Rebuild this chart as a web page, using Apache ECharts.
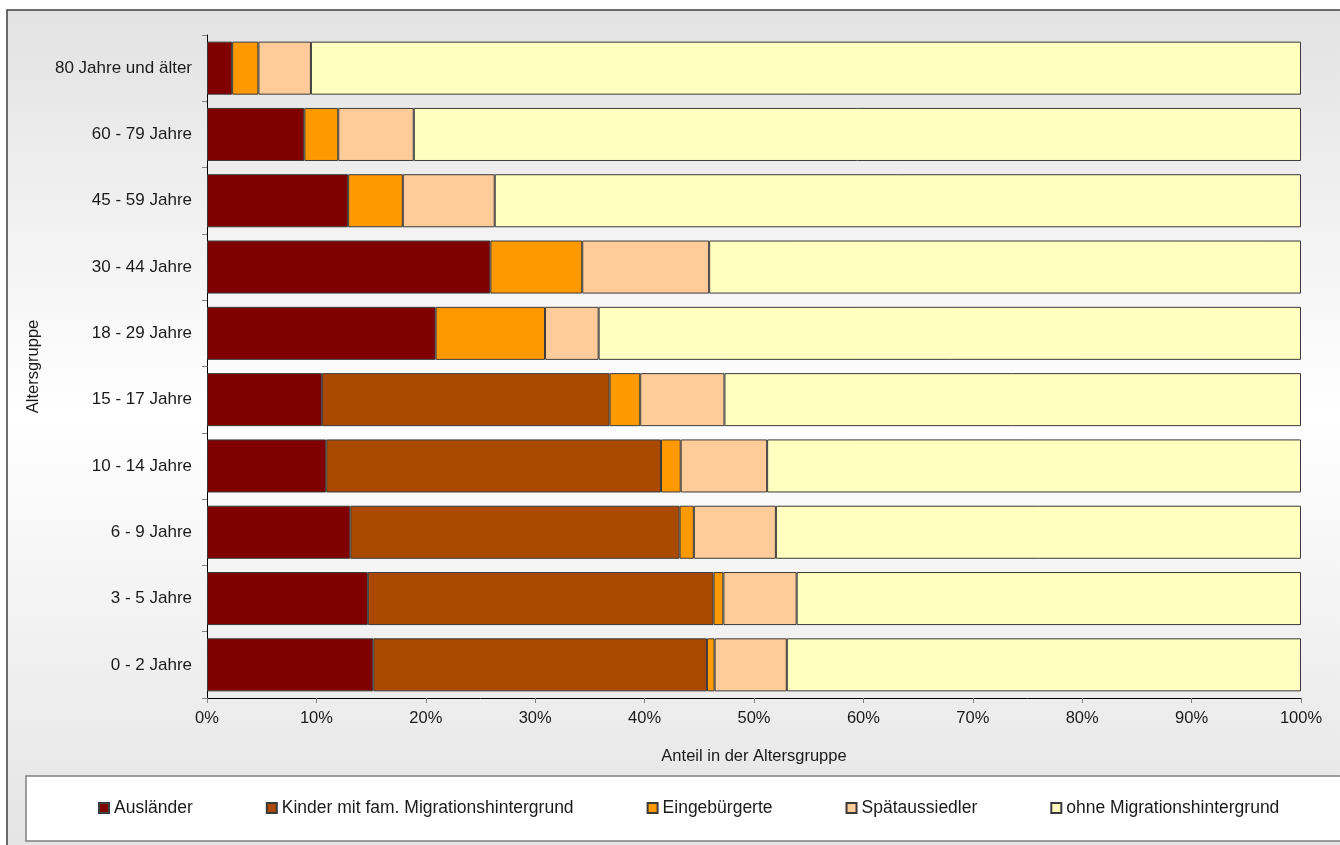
<!DOCTYPE html>
<html>
<head>
<meta charset="utf-8">
<script src="https://cdn.jsdelivr.net/npm/echarts@6/dist/echarts.min.js"></script>
<style>
html,body{margin:0;padding:0;background:#fff;}
#chart{width:1340px;height:845px;}
</style>
</head>
<body>
<div id="chart"></div>
<script>
// Categories (bottom to top, as ECharts category y-axis draws them)
const categories = ['0 - 2 Jahre','3 - 5 Jahre','6 - 9 Jahre','10 - 14 Jahre','15 - 17 Jahre','18 - 29 Jahre','30 - 44 Jahre','45 - 59 Jahre','60 - 79 Jahre','80 Jahre und älter'];
const seriesNames = ['Ausländer','Kinder mit fam. Migrationshintergrund','Eingebürgerte','Spätaussiedler','ohne Migrationshintergrund'];
const auslaender     = [15.2, 14.7, 13.1, 10.9, 10.5, 20.9, 25.9, 12.9, 8.9, 2.3];
const kinder         = [30.5, 31.6, 30.1, 30.6, 26.3, null, null, null, null, null];
const eingebuergerte = [0.7, 0.9, 1.3, 1.8, 2.8, 10.0, 8.4, 5.0, 3.1, 2.4];
const spaetaussiedler= [6.6, 6.7, 7.5, 7.9, 7.7, 4.9, 11.6, 8.4, 6.9, 4.8];
const ohneMigration  = [47.0, 46.1, 48.0, 48.8, 52.7, 64.2, 54.1, 73.7, 81.1, 90.5];

const colors = ['#800000','#AA4A00','#FF9900','#FFCC99','#FFFFC0'];
const font = "'Liberation Sans', Arial, sans-serif";
const textColor = '#1a1a1a';

const dataSets = [auslaender, kinder, eingebuergerte, spaetaussiedler, ohneMigration];

const chart = echarts.init(document.getElementById('chart'), null, {renderer:'canvas'});
chart.setOption({
  animation: false,
  backgroundColor: '#ffffff',
  textStyle: {fontFamily: font, color: textColor},
  graphic: [
    {
      type: 'rect', z: -20, silent: true,
      shape: {x: 7, y: 10, width: 1400, height: 900},
      style: {
        fill: new echarts.graphic.LinearGradient(0, 0, 0, 1, [
          {offset: 0, color: '#e2e2e2'},
          {offset: 0.45, color: '#ffffff'},
          {offset: 1, color: '#e0e0e0'}
        ]),
        stroke: '#404040', lineWidth: 1.5
      }
    },
    {
      type: 'rect', z: -10, silent: true,
      shape: {x: 26, y: 776, width: 1400, height: 65},
      style: {fill: '#ffffff', stroke: '#808080', lineWidth: 1.5}
    }
  ],
  grid: {left: 207, right: 39, top: 35, bottom: 147, containLabel: false},
  legend: {
    left: 98, top: 799, padding: 0,
    itemWidth: 10, itemHeight: 10, itemGap: 73,
    icon: 'rect',
    textStyle: {fontFamily: font, fontSize: 17.5, color: textColor},
    data: seriesNames
  },
  xAxis: {
    type: 'value', min: 0, max: 100, interval: 10,
    name: 'Anteil in der Altersgruppe', nameLocation: 'middle', nameGap: 50,
    nameTextStyle: {fontFamily: font, fontSize: 16.5, color: textColor},
    axisLine: {show: true, lineStyle: {color: '#000', width: 1}},
    axisTick: {show: true, length: 5, lineStyle: {color: '#808080'}},
    axisLabel: {fontFamily: font, fontSize: 16.5, color: textColor, margin: 12, formatter: '{value}%'},
    splitLine: {show: false}
  },
  yAxis: {
    type: 'category', data: categories,
    name: 'Altersgruppe', nameLocation: 'middle', nameGap: 165, nameRotate: 90,
    nameTextStyle: {fontFamily: font, fontSize: 16.5, color: textColor},
    axisLine: {show: true, lineStyle: {color: '#000', width: 1}},
    axisTick: {show: true, length: 5, alignWithLabel: false, lineStyle: {color: '#808080'}},
    axisLabel: {fontFamily: font, fontSize: 17, color: textColor, margin: 15},
    splitLine: {show: false}
  },
  series: seriesNames.map((name, i) => ({
    name: name,
    type: 'bar',
    stack: 'total',
    barCategoryGap: '20%',
    data: dataSets[i],
    itemStyle: {color: colors[i], borderColor: '#3a3a3a', borderWidth: 1},
    emphasis: {disabled: true}
  }))
});
</script>
</body>
</html>
